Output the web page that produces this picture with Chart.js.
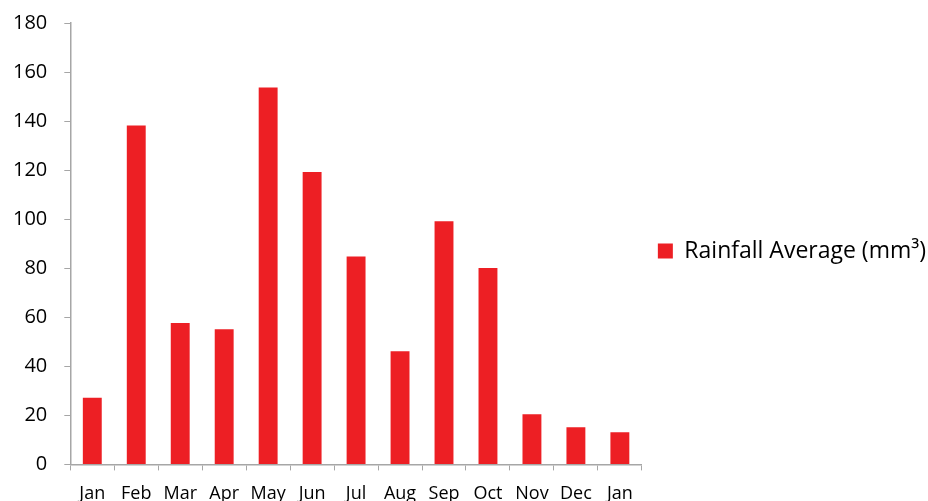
<!DOCTYPE html>
<html>
<head>
<meta charset="utf-8">
<script src="https://cdn.jsdelivr.net/npm/chart.js@4"></script>
<style>
  body { margin: 0; background: #fff; }
  #wrap { width: 928px; height: 501px; }
</style>
</head>
<body>
<div id="wrap"><canvas id="chart"></canvas></div>
<script>
const months = ['Jan', 'Feb', 'Mar', 'Apr', 'May', 'Jun', 'Jul', 'Aug', 'Sep', 'Oct', 'Nov', 'Dec', 'Jan'];
const rainfall = [27.2, 138.2, 57.7, 55.1, 153.7, 119.2, 84.8, 46.1, 99.2, 80.1, 20.5, 15.1, 13.1];
const seriesName = 'Rainfall Average (mm³)';
const yTicks = [0, 20, 40, 60, 80, 100, 120, 140, 160, 180];

const axisGrey = '#a6a6a6';
const barRed = '#ed1f24';

const data = {
  labels: months,
  datasets: [
    {
      label: seriesName,
      data: rainfall,
      backgroundColor: barRed,
      borderWidth: 0,
      categoryPercentage: 1,
      barPercentage: 0.43
    }
  ]
};

const options = {
  responsive: true,
  maintainAspectRatio: false,
  animation: false,
  layout: { padding: { left: -4, top: -16, right: -8, bottom: -17 } },
  plugins: {
    legend: {
      position: 'right',
      maxWidth: 320,
      labels: {
        color: '#000',
        boxWidth: 15,
        boxHeight: 15,
        padding: 16,
        font: { family: 'Open Sans', size: 23 }
      }
    },
    tooltip: { enabled: false }
  },
  scales: {
    x: {
      grid: { drawOnChartArea: false, drawTicks: true, tickLength: 6, color: axisGrey, offset: true },
      border: { display: true, color: axisGrey, width: 1.5 },
      ticks: { color: '#000', padding: 13, maxRotation: 0, font: { family: 'Open Sans', size: 18 } }
    },
    y: {
      min: 0,
      max: 180,
      afterBuildTicks: (axis) => { axis.ticks = yTicks.map(v => ({ value: v })); },
      // top of the plot sits at y=23 like the original
      afterFit: (axis) => { axis.paddingTop = 23; axis.paddingBottom = 0; },
      grid: { drawOnChartArea: false, drawTicks: true, tickLength: 6, color: axisGrey },
      border: { display: true, color: axisGrey, width: 1.5 },
      ticks: { color: '#000', padding: 17, font: { family: 'Open Sans', size: 20 } }
    }
  }
};

new Chart(document.getElementById('chart'), { type: 'bar', data, options });
</script>
</body>
</html>
